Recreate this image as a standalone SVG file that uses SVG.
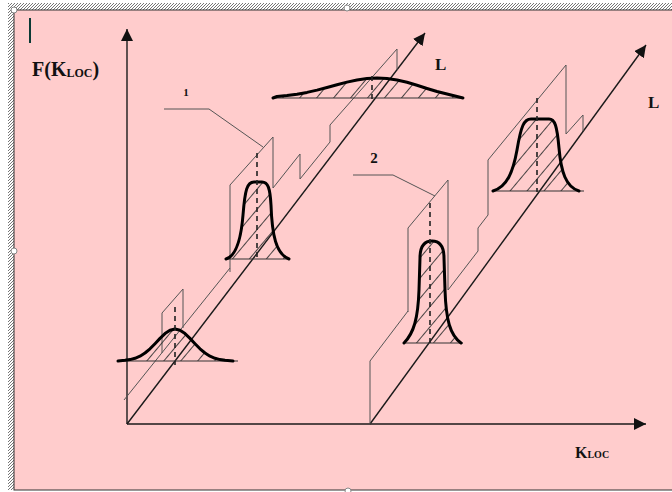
<svg xmlns="http://www.w3.org/2000/svg" width="672" height="492" viewBox="0 0 672 492">
<style>
.thin{fill:none;stroke:#555;stroke-width:1}
.axis{fill:none;stroke:#1a1a1a;stroke-width:1.4}
.fillh{fill:url(#hatch);stroke:none}
.curve{fill:none;stroke:#000;stroke-width:3;stroke-linejoin:round;stroke-linecap:round}
.base{fill:none;stroke:#333;stroke-width:1}
.dash{fill:none;stroke:#222;stroke-width:1.6;stroke-dasharray:5 4}
.lbl{font-family:"Liberation Serif","Times New Roman",serif;font-weight:bold;fill:#111}
.handle{fill:#fff;stroke:#888;stroke-width:1}
</style>
<defs>
<pattern id="bh" patternUnits="userSpaceOnUse" width="3" height="3">
<rect width="3" height="3" fill="#fff"/>
<path d="M-1,1 L1,-1 M0,3 L3,0 M2,4 L4,2" stroke="#666" stroke-width="0.9"/>
</pattern>
<pattern id="hatch" patternUnits="userSpaceOnUse" width="13" height="13" patternTransform="rotate(-50)">
<line x1="0" y1="6.5" x2="13" y2="6.5" stroke="#333" stroke-width="0.9"/>
</pattern>
<marker id="arr" markerUnits="userSpaceOnUse" markerWidth="13" markerHeight="12" refX="12" refY="6" orient="auto">
<path d="M0,0 L12,6 L0,12 Z" fill="#111"/>
</marker>
<path id="c-low" d="M118,361 L125,360.3 L130,359.6 L135,358.3 L140,356.2 L145,353 L150,348.8 L155,343.7 L160,338.4 L165,333.6 L170,330.2 L175,329 L180,330.2 L185,333.6 L190,338.4 L195,343.7 L200,348.8 L205,353 L210,356.2 L215,358.3 L220,359.6 L225,360.3 L233,361"/>
<path id="c-1" d="M226,259 C236,256 241,240 243,215 C245,190 247,182 254,182 L262,182 C268,182 270,188 271,205 C272,235 276,254 289,259"/>
<path id="c-top" d="M273,98 L277,96.5 L287,95.5 L297,94.2 L307,92.4 L317,90.1 L327,87.5 L337,84.8 L347,82.1 L357,80 L367,78.5 L377,78 L387,78.5 L397,80 L407,82.3 L417,85.3 L427,88.5 L437,91.5 L447,94 L455,96 L463,98"/>
<path id="c-2" d="M404,343 C414,333 418,318 419,290 L420,258 C420,246 425,241 432,241 C439,241 444,246 444,258 L445,290 C446,320 450,335 461,343"/>
<path id="c-r" d="M493,191 C507,187 513,172 517,150 C521,126 524,119 531,119 L549,119 C555,119 557,126 559,148 C561,172 566,187 579,191"/>
</defs>

<g id="frame">
<rect x="0" y="0" width="672" height="492" fill="#fff"/>
<rect x="8" y="3" width="664" height="8" fill="url(#bh)"/>
<rect x="8" y="3" width="7" height="487" fill="url(#bh)"/>
<rect x="14" y="10" width="660" height="480" fill="#FFCCCC" stroke="#333" stroke-width="1"/>
<circle class="handle" cx="14" cy="10" r="3"/>
<circle class="handle" cx="347" cy="8" r="3"/>
<circle class="handle" cx="14" cy="251" r="3"/>
<circle class="handle" cx="348" cy="491" r="3"/>
<line x1="30" y1="18" x2="30" y2="43" stroke="#0b3a35" stroke-width="2"/>
</g>

<g id="axes">
<line class="axis" x1="127" y1="424" x2="127" y2="29" marker-end="url(#arr)"/>
<line class="axis" x1="127" y1="424" x2="646" y2="424" marker-end="url(#arr)"/>
<line class="axis" x1="127" y1="424" x2="425" y2="33" marker-end="url(#arr)"/>
<line class="axis" x1="370" y1="424" x2="646" y2="45" marker-end="url(#arr)"/>
</g>

<g id="connectors">
<polyline class="thin" points="124,400 230,268"/>
<polyline class="thin" points="162,353 162,313 183,289 183,328"/>
<polyline class="thin" points="230,272 230,185 273,137 273,188 300,154 300,179 330,142 330,125 397,49 397,70"/>
<polyline class="thin" points="370,424 370,361 408,311"/>
<polyline class="thin" points="408,312 408,228 448,180 448,290 478,251 478,228 488,215 488,160 566,65 566,134 583,115 583,131"/>
<polyline class="thin" points="164,109 209,109 263,147"/>
<polyline class="thin" points="353,175 393,175 435,196"/>
</g>

<g id="dist-low">
<use href="#c-low" class="fillh"/>
<line class="base" x1="118" y1="361" x2="238" y2="361"/>
<use href="#c-low" class="curve"/>
<line class="dash" x1="175" y1="307" x2="175" y2="365"/>
</g>

<g id="dist-1">
<use href="#c-1" class="fillh"/>
<line class="base" x1="225" y1="259" x2="290" y2="259"/>
<use href="#c-1" class="curve"/>
<line class="dash" x1="257" y1="153" x2="257" y2="260"/>
</g>

<g id="dist-top">
<use href="#c-top" class="fillh"/>
<line class="base" x1="273" y1="98" x2="463" y2="98"/>
<use href="#c-top" class="curve"/>
<line class="dash" x1="372" y1="76" x2="372" y2="99"/>
</g>

<g id="dist-2">
<use href="#c-2" class="fillh"/>
<line class="base" x1="403" y1="343" x2="463" y2="343"/>
<use href="#c-2" class="curve"/>
<line class="dash" x1="430" y1="203" x2="430" y2="343"/>
</g>

<g id="dist-right">
<use href="#c-r" class="fillh"/>
<line class="base" x1="492" y1="191" x2="584" y2="191"/>
<use href="#c-r" class="curve"/>
<line class="dash" x1="537" y1="98" x2="537" y2="192"/>
</g>

<g id="labels">
<text class="lbl" x="32" y="76" font-size="20">F(K<tspan font-size="12" dy="1">LOC</tspan><tspan dy="-1">)</tspan></text>
<text class="lbl" x="575" y="458" font-size="16">K<tspan font-size="10">LOC</tspan></text>
<text class="lbl" x="435" y="70" font-size="17">L</text>
<text class="lbl" x="648" y="108" font-size="17">L</text>
<text class="lbl" x="186" y="96" font-size="11" text-anchor="middle">1</text>
<text class="lbl" x="374" y="163" font-size="15" text-anchor="middle">2</text>
</g>
</svg>
